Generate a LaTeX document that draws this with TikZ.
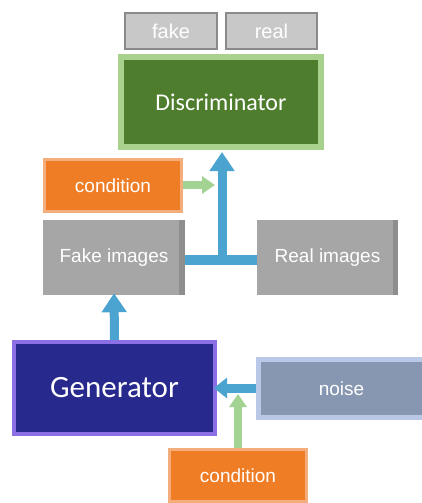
\documentclass[tikz,border=0pt]{standalone}
\usepackage{fontspec}
\setmainfont{Liberation Sans}
\newfontfamily\calfont{Carlito}
\usetikzlibrary{arrows.meta}
\definecolor{dgreen}{HTML}{4E7D2D}
\definecolor{lgreen}{HTML}{A9D18E}
\definecolor{dblue}{HTML}{27298C}
\definecolor{lpurple}{HTML}{8C6FE6}
\definecolor{orangef}{HTML}{EF7D26}
\definecolor{orangeb}{HTML}{F4AE7C}
\definecolor{grayf}{HTML}{A6A6A6}
\definecolor{grayd}{HTML}{8E8E8E}
\definecolor{noisef}{HTML}{8797B1}
\definecolor{noiseb}{HTML}{B8C8E6}
\definecolor{arrblue}{HTML}{4BA4CF}
\definecolor{arrgreen}{HTML}{A3D392}
\definecolor{labf}{HTML}{C8C8C8}
\definecolor{labb}{HTML}{8A8A8A}
\tikzset{
  x=1pt,y=-1pt,
  labbox/.style={fill=labf,draw=labb,line width=2.5pt,text=white,font=\fontsize{20}{22}\selectfont,inner sep=0pt,minimum height=36pt},
  condbox/.style={fill=orangef,draw=orangeb,line width=3pt,text=white,font=\fontsize{19}{21}\selectfont,minimum width=137pt,minimum height=52pt,inner sep=0pt},
  imgbox/.style={fill=grayf,text=white,font=\fontsize{19}{21}\selectfont,minimum width=142pt,minimum height=75pt,inner sep=0pt},
  bluearrow/.style={draw=arrblue,line width=9pt,-{Triangle[width=24pt,length=19pt]}},
  smallbluearrow/.style={draw=arrblue,line width=9pt,-{Triangle[width=20pt,length=13pt]}},
  blueline/.style={draw=arrblue,line width=10pt},
  greenarrow/.style={draw=arrgreen,line width=8pt,-{Triangle[width=17pt,length=13pt]}},
}
\begin{document}
\begin{tikzpicture}
\useasboundingbox (0,0) rectangle (422,503);
% top labels
\node[labbox,minimum width=92pt] (fake) at (171,31) {fake};
\node[labbox,minimum width=91pt] (real) at (271.5,31) {real};
% discriminator
\node[fill=dgreen,draw=lgreen,line width=6pt,text=white,minimum width=200pt,minimum height=90pt,inner sep=0pt,font=\calfont\fontsize{24}{26}\selectfont] (disc) at (221,102) {Discriminator};
% condition top
\node[condbox] (cond1) at (113,185.5) {condition};
% image boxes
\node[imgbox] (fimg) at (114,257.5) {Fake images};
\node[imgbox,minimum width=141pt] (rimg) at (327.5,257.5) {Real images};
\fill[grayd] ([xshift=-6pt]fimg.north east) rectangle (fimg.south east);
\fill[grayd] ([xshift=-5pt]rimg.north east) rectangle (rimg.south east);
% generator
\node[fill=dblue,draw=lpurple,line width=4pt,text=white,minimum width=201pt,minimum height=92pt,inner sep=0pt,font=\calfont\fontsize{31}{34}\selectfont] (gen) at (114.5,388) {Generator};
% noise
\node[fill=noisef,draw=noiseb,line width=5pt,text=white,minimum width=167pt,minimum height=58pt,inner sep=0pt,font=\fontsize{19}{21}\selectfont] (noise) at (341.5,388.5) {noise};
% condition bottom
\node[condbox] (cond2) at (238,475.5) {condition};
% connectors
\coordinate (j) at (222,260);
\coordinate (dtip) at (222,152);
\coordinate (gtip) at (215,185);
\coordinate (ntip) at (238,394);
\draw[blueline] (fimg.east |- j) -- (rimg.west |- j);
\draw[bluearrow] ([yshift=5pt]j) -- (dtip);
\draw[bluearrow] (gen.north) -- ([yshift=2pt]fimg.south);
\draw[smallbluearrow] (noise.west |- 0,388) -- ([xshift=-3pt]gen.east |- 0,388);
\draw[greenarrow] (cond1.east |- gtip) -- (gtip);
\draw[greenarrow] (cond2.north) -- (ntip);
\end{tikzpicture}
\end{document}
